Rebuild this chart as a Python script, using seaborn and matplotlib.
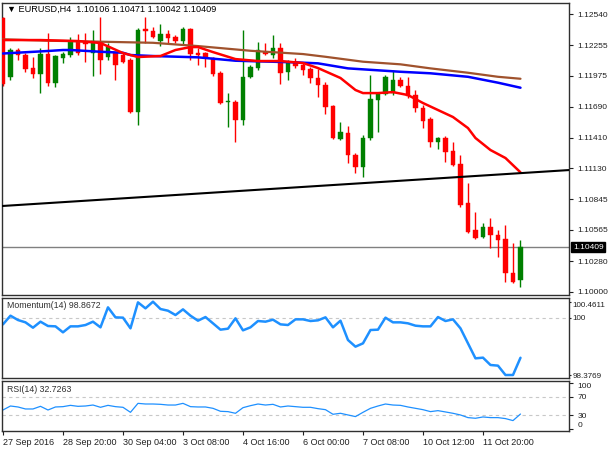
import matplotlib
matplotlib.use("Agg")
import matplotlib.pyplot as plt
import matplotlib.transforms as mtransforms
import numpy as np
import pandas as pd
import seaborn as sns

# ---------------- data ----------------
opens = [1.12503, 1.11966, 1.12211, 1.12165, 1.12046, 1.11991, 1.12174, 1.11909, 1.12140, 1.12165,
         1.12287, 1.12284, 1.12186, 1.12284, 1.12149, 1.12183, 1.12165, 1.12119, 1.11646, 1.12403,
         1.12387, 1.12296, 1.12357, 1.12327, 1.12296, 1.12403, 1.12181, 1.12183, 1.12135, 1.11998,
         1.11732, 1.11738, 1.11570, 1.11961, 1.12043, 1.12195, 1.12165, 1.12226, 1.12012, 1.12104,
         1.12073, 1.12034, 1.11952, 1.11891, 1.11698, 1.11397, 1.11454, 1.11250, 1.11138, 1.11403,
         1.11753, 1.11808, 1.11815, 1.11936, 1.11884, 1.11795, 1.11680, 1.11577, 1.11372, 1.11403,
         1.11290, 1.11168, 1.10808, 1.10564, 1.10497, 1.10594, 1.10519, 1.10479, 1.10168, 1.10106]
highs = [1.12512, 1.12229, 1.12229, 1.12183, 1.12147, 1.12229, 1.12369, 1.12165, 1.12195, 1.12332,
         1.12357, 1.12366, 1.12394, 1.12513, 1.12275, 1.12195, 1.12186, 1.12137, 1.12412, 1.12515,
         1.12424, 1.12448, 1.12394, 1.12348, 1.12424, 1.12409, 1.12226, 1.12195, 1.12149, 1.12021,
         1.11815, 1.11753, 1.12394, 1.12073, 1.12287, 1.12272, 1.12348, 1.12272, 1.12119, 1.12135,
         1.12104, 1.12058, 1.12034, 1.11921, 1.11708, 1.11555, 1.11516, 1.11266, 1.11433, 1.11982,
         1.11829, 1.11982, 1.12028, 1.11966, 1.11966, 1.11845, 1.11708, 1.11595, 1.11418, 1.11424,
         1.11372, 1.11250, 1.10991, 1.10732, 1.10631, 1.10671, 1.10564, 1.10610, 1.10443, 1.10471]
lows = [1.11881, 1.11936, 1.12119, 1.12009, 1.11955, 1.11817, 1.11881, 1.11872, 1.12092, 1.12149,
        1.12165, 1.12101, 1.11973, 1.11991, 1.12119, 1.11936, 1.12092, 1.11632, 1.11525, 1.12272,
        1.12318, 1.12247, 1.12277, 1.12272, 1.12256, 1.12119, 1.12073, 1.12058, 1.11973, 1.11717,
        1.11504, 1.11372, 1.11525, 1.11952, 1.12028, 1.12165, 1.12135, 1.11900, 1.11936, 1.12043,
        1.11982, 1.11906, 1.11784, 1.11625, 1.11397, 1.11387, 1.11174, 1.11083, 1.11046, 1.11387,
        1.11463, 1.11799, 1.11799, 1.11875, 1.11769, 1.11646, 1.11497, 1.11321, 1.11302, 1.11189,
        1.11150, 1.10777, 1.10540, 1.10482, 1.10488, 1.10397, 1.10320, 1.10091, 1.10082, 1.10042]
closes = [1.11900, 1.12211, 1.12165, 1.12037, 1.11991, 1.12174, 1.11909, 1.12156, 1.12174, 1.12287,
          1.12181, 1.12266, 1.12296, 1.12119, 1.12241, 1.12073, 1.12104, 1.11646, 1.12394, 1.12384,
          1.12332, 1.12357, 1.12318, 1.12296, 1.12403, 1.12171, 1.12165, 1.12147, 1.11991, 1.11723,
          1.11747, 1.11570, 1.11966, 1.12058, 1.12211, 1.12174, 1.12226, 1.11998, 1.12089, 1.12064,
          1.12028, 1.11952, 1.11891, 1.11692, 1.11403, 1.11458, 1.11250, 1.11138, 1.11409, 1.11760,
          1.11805, 1.11966, 1.11936, 1.11881, 1.11790, 1.11677, 1.11566, 1.11372, 1.11403, 1.11280,
          1.11159, 1.10793, 1.10549, 1.10488, 1.10594, 1.10519, 1.10473, 1.10168, 1.10091, 1.10409]

ma_red_idx = [0, 5, 10, 13, 16, 18, 21, 23, 25, 26, 28, 31, 34, 37, 40, 42, 45, 47, 48, 50,
              52, 54, 56, 58, 60, 62, 63, 65, 67, 69]
ma_red_val = [1.12302, 1.12302, 1.12293, 1.12275, 1.12183, 1.12147, 1.12156, 1.12211, 1.12238, 1.12238,
              1.12192, 1.12128, 1.12110, 1.12110, 1.12092, 1.12046, 1.11955, 1.11845, 1.11817, 1.11817,
              1.11826, 1.11799, 1.11726, 1.11662, 1.11598, 1.11497, 1.11406, 1.11296, 1.11223, 1.11092]

ma_blue_idx = [0, 6, 8, 9, 13, 16, 17, 20, 26, 31, 39, 42, 46, 53, 57, 62, 66, 69]
ma_blue_val = [1.12179, 1.12202, 1.12211, 1.12211, 1.12195, 1.12186, 1.12165, 1.12156, 1.12144, 1.12113,
               1.12098, 1.12089, 1.12043, 1.12012, 1.11998, 1.11966, 1.11912, 1.11866]

ma_brown_idx = [0, 6, 13, 20, 26, 33, 40, 43, 48, 53, 57, 62, 66, 69]
ma_brown_val = [1.12309, 1.12296, 1.12287, 1.12277, 1.12247, 1.12204, 1.12174, 1.12149, 1.12104, 1.12080,
                1.12043, 1.12003, 1.11966, 1.11948]

trend_idx = [-0.13, 75.5]
trend_val = [1.10784, 1.11113]

bid_price = 1.10409

momentum = [99.817, 100.063, 99.940, 99.874, 99.722, 99.893, 99.770, 99.760, 99.590, 99.760,
            99.760, 99.798, 99.893, 99.732, 100.300, 100.016, 100.007, 99.704, 100.442, 100.272,
            100.461, 100.253, 100.205, 100.082, 100.243, 100.063, 99.921, 100.025, 99.846, 99.666,
            99.694, 99.988, 99.647, 99.732, 99.912, 99.893, 99.950, 99.817, 99.798, 99.959,
            99.959, 99.912, 99.931, 100.016, 99.732, 99.921, 99.372, 99.183, 99.277, 99.656,
            99.666, 100.007, 99.874, 99.874, 99.846, 99.779, 99.760, 99.760, 100.025, 99.912,
            99.959, 99.704, 99.277, 98.851, 98.870, 98.662, 98.643, 98.377, 98.377, 98.8672]

rsi = [41.4, 50.0, 47.9, 43.6, 43.6, 49.3, 41.4, 47.9, 48.6, 51.4,
       49.3, 50.0, 52.1, 47.2, 51.4, 48.6, 47.2, 36.4, 55.7, 54.3,
       54.3, 53.6, 52.1, 52.1, 55.7, 48.6, 47.9, 47.9, 45.0, 38.6,
       37.9, 34.3, 46.4, 50.7, 54.3, 52.1, 53.6, 47.9, 50.0, 48.6,
       47.2, 47.2, 44.3, 42.1, 32.2, 34.3, 30.7, 27.2, 36.4, 45.0,
       50.0, 54.3, 52.1, 51.4, 47.9, 45.0, 42.1, 37.9, 40.0, 37.2,
       34.3, 30.7, 25.0, 23.6, 26.4, 25.0, 25.0, 22.9, 18.6, 32.7263]

price_ticks = [1.12540, 1.12255, 1.11975, 1.11690, 1.11410, 1.11130, 1.10845, 1.10565, 1.10280, 1.10000]
mom_ticks = [100.4611, 100, 98.3769]
mom_tick_labels = ["100.4611", "100", "98.3769"]
rsi_ticks = [100, 70, 30, 0]
date_tick_idx = [0, 8, 16, 24, 32, 40, 48, 56, 64]
date_labels = ["27 Sep 2016", "28 Sep 20:00", "30 Sep 04:00", "3 Oct 08:00", "4 Oct 16:00",
               "6 Oct 00:00", "7 Oct 08:00", "10 Oct 12:00", "11 Oct 20:00"]
title_text = "\u25BC EURUSD,H4  1.10106 1.10471 1.10042 1.10409"

# ---------------- style ----------------
sns.set_theme(style="white")
plt.rcParams["font.family"] = ["Liberation Sans", "DejaVu Sans"]
FS = 6.0

W, H = 610, 450
fig = plt.figure(figsize=(W / 100, H / 100), dpi=100)
fig.patch.set_facecolor("white")

def rect(x0, y0, x1, y1):
    return [x0 / W, 1 - y1 / H, (x1 - x0) / W, (y1 - y0) / H]

ax = fig.add_axes(rect(2, 3, 569, 295))
axm = fig.add_axes(rect(2, 298, 569, 378), sharex=ax)
axr = fig.add_axes(rect(2, 381, 569, 431), sharex=ax)

n = len(opens)
idx = np.arange(n)
df = pd.DataFrame({"i": idx, "o": opens, "h": highs, "l": lows, "c": closes,
                   "mom": momentum, "rsi": rsi})
GREEN = "#008000"
RED = "#ff0000"
up = df["c"] >= df["o"]
colors = np.where(up, GREEN, RED)

# wicks
ax.vlines(df["i"], df["l"], df["h"], colors=colors, linewidth=1.0, zorder=2)
# bodies
bottoms = np.minimum(df["o"], df["c"])
heights = np.maximum(np.abs(df["c"] - df["o"]), 0.00004)
ax.bar(df["i"], heights, bottom=bottoms, width=0.55, color=colors, edgecolor=colors,
       linewidth=0.3, zorder=3)

# moving averages
sns.lineplot(x=ma_brown_idx, y=ma_brown_val, ax=ax, color="#a0522d", linewidth=1.6, zorder=4)
sns.lineplot(x=ma_blue_idx, y=ma_blue_val, ax=ax, color="#0000ff", linewidth=1.8, zorder=5)
sns.lineplot(x=ma_red_idx, y=ma_red_val, ax=ax, color="#ff0000", linewidth=1.8, zorder=6)
# trend line
sns.lineplot(x=trend_idx, y=trend_val, ax=ax, color="black", linewidth=1.5, zorder=6)
# bid line
ax.axhline(bid_price, color="#808080", linewidth=1.0, zorder=1)

ax.set_xlim(-0.13, 75.47)
ax.set_ylim(1.09970, 1.12641)
ax.yaxis.tick_right()
ax.set_yticks(price_ticks)
ax.set_yticklabels([f"{v:.5f}" for v in price_ticks])
ax.text(0.009, 0.978, title_text, transform=ax.transAxes, fontsize=6.6,
        ha="left", va="center", color="black")
trans = mtransforms.blended_transform_factory(ax.transAxes, ax.transData)
ax.text(1.007, bid_price, f"{bid_price:.5f}", transform=trans, fontsize=FS, color="white",
        ha="left", va="center", zorder=10,
        bbox=dict(boxstyle="square,pad=0.2", facecolor="black", edgecolor="black"))

# momentum
sns.lineplot(data=df, x="i", y="mom", ax=axm, color="#1e90ff", linewidth=1.8)
axm.axhline(100, color="#c8c8c8", linewidth=0.8, linestyle=(0, (3, 3)), zorder=0)
axm.set_ylim(98.292, 100.566)
axm.yaxis.tick_right()
axm.set_yticks(mom_ticks)
axm.set_yticklabels(mom_tick_labels)
mlabs = axm.get_yticklabels()
mlabs[0].set_va("top")
axm.text(0.009, 0.9, f"Momentum(14) {momentum[-1]:.4f}", transform=axm.transAxes,
         fontsize=6.3, ha="left", va="center", color="#303030")

# RSI
sns.lineplot(data=df, x="i", y="rsi", ax=axr, color="#1e90ff", linewidth=0.9)
for lv in (70, 30):
    axr.axhline(lv, color="#c8c8c8", linewidth=0.8, linestyle=(0, (3, 3)), zorder=0)
axr.set_ylim(-3.8, 103.8)
axr.yaxis.tick_right()
axr.set_yticks(rsi_ticks)
axr.set_yticklabels([str(v) for v in rsi_ticks])
ylabs = axr.get_yticklabels()
ylabs[0].set_va("top")
ylabs[-1].set_va("bottom")
axr.text(0.009, 0.82, f"RSI(14) {rsi[-1]:.4f}", transform=axr.transAxes,
         fontsize=6.3, ha="left", va="center", color="#303030")

axr.set_xticks(date_tick_idx)
axr.set_xticklabels(date_labels)
for lab in axr.get_xticklabels():
    lab.set_ha("left")

for a in (ax, axm, axr):
    a.set_xlabel("")
    a.set_ylabel("")
    a.set_facecolor("white")
    for s in a.spines.values():
        s.set_color("#303030")
        s.set_linewidth(1.0)
    a.tick_params(axis="y", which="both", right=True, length=3, width=0.8, pad=3,
                  labelsize=FS, colors="#202020", direction="out")
axm.tick_params(axis="y", length=1.5, pad=1, labelsize=5.8)
for a in (ax, axm):
    a.tick_params(axis="x", bottom=False, labelbottom=False)
axr.tick_params(axis="x", bottom=True, length=3, width=0.8, pad=2, labelsize=6.5,
                colors="#202020", direction="out")

fig.savefig("out.png", dpi=100, facecolor="white")
